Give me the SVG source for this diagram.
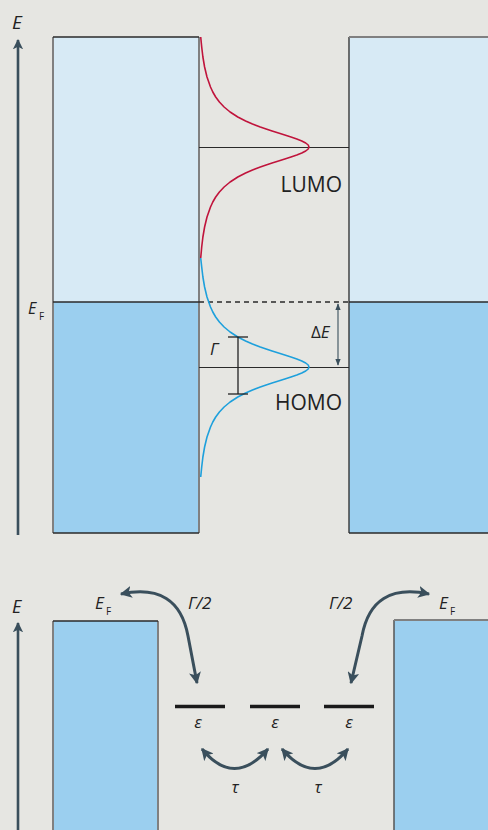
<svg xmlns="http://www.w3.org/2000/svg" width="488" height="830" viewBox="0 0 488 830">
<defs>
<style>
.t{font-family:"Open Sans","Liberation Sans",sans-serif;fill:#222}
.i{font-style:italic}
.lab{font-size:21px}
.sub{font-size:10px}
.ax{stroke:#3a4f5c;stroke-width:2.6;fill:none}
.carr{stroke:#3a4f5c;stroke-width:3;fill:none}
.gray{stroke:#808080;stroke-width:2}
.dark{stroke:#2a2a2a;stroke-width:1.3}
.lvl{stroke:#1a1a1a;stroke-width:3.5}
</style>
<marker id="ah" viewBox="0 0 10 10" refX="9" refY="5" markerWidth="4" markerHeight="4" orient="auto-start-reverse" markerUnits="strokeWidth">
<path d="M0,0 L10,5 L0,10 L2.5,5 z" fill="#3a4f5c"/>
</marker>
<marker id="ahs" viewBox="0 0 10 10" refX="9" refY="5" markerWidth="6" markerHeight="6" orient="auto-start-reverse" markerUnits="strokeWidth">
<path d="M0,1 L10,5 L0,9 z" fill="#3a4f5c"/>
</marker>
</defs>
<rect width="488" height="830" fill="#e6e6e2"/>

<g id="top-left-electrode">
<rect x="53" y="37" width="146" height="265" fill="#d7eaf5"/>
<rect x="53" y="302" width="146" height="231" fill="#9bcfef"/>
<line x1="53" y1="37" x2="53" y2="533" class="gray"/>
<line x1="199" y1="37" x2="199" y2="533" class="gray"/>
<line x1="53" y1="37" x2="199" y2="37" class="dark"/>
<line x1="53" y1="533" x2="199" y2="533" class="dark"/>
</g>
<g id="top-right-electrode">
<rect x="349" y="37" width="150" height="265" fill="#d7eaf5"/>
<rect x="349" y="302" width="150" height="231" fill="#9bcfef"/>
<line x1="349" y1="37" x2="349" y2="533" class="dark"/>
<line x1="349" y1="37" x2="499" y2="37" class="gray"/>
<line x1="349" y1="533" x2="499" y2="533" class="dark"/>
</g>

<g id="levels">
<line x1="53" y1="302" x2="199" y2="302" class="dark"/>
<line x1="199" y1="302" x2="349" y2="302" class="dark" stroke-dasharray="5,4"/>
<line x1="349" y1="302" x2="488" y2="302" class="dark"/>
<line x1="199" y1="147.5" x2="349" y2="147.5" stroke="#2a2a2a" stroke-width="1.1"/>
<line x1="199" y1="367.5" x2="349" y2="367.5" stroke="#2a2a2a" stroke-width="1.1"/>
</g>

<g id="lumo-curve">
<polyline fill="none" stroke="#c0143c" stroke-width="1.6" stroke-linejoin="round" points="200.7,37 201.7,47 202.9,57 204.6,67 207.0,77 210.5,87 212.8,92 215.7,97 219.4,102 224.1,107 230.1,112 237.8,117 245.6,121 252.5,124 260.3,127 266.1,129 272.1,131 278.5,133 284.8,135 291.0,137 296.8,139 301.8,141 305.7,143 308.2,145 309,147 308.2,149 305.7,151 301.8,153 296.8,155 291.0,157 284.8,159 278.5,161 272.1,163 266.1,165 260.3,167 252.5,170 245.6,173 237.8,177 230.1,182 224.1,187 219.4,192 215.7,197 212.8,202 210.5,207 207.0,217 204.6,227 202.9,237 201.7,247 200.7,258"/>
</g>
<g id="homo-curve">
<polyline fill="none" stroke="#1ea0dc" stroke-width="1.6" stroke-linejoin="round" points="200.7,258 201.7,267 202.9,277 204.6,287 207.0,297 210.5,307 212.8,312 215.7,317 219.4,322 224.1,327 230.1,332 237.8,337 245.6,341 252.5,344 260.3,347 266.1,349 272.1,351 278.5,353 284.8,355 291.0,357 296.8,359 301.8,361 305.7,363 308.2,365 309,367 308.2,369 305.7,371 301.8,373 296.8,375 291.0,377 284.8,379 278.5,381 272.1,383 266.1,385 260.3,387 252.5,390 245.6,393 237.8,397 230.1,402 224.1,407 219.4,412 215.7,417 212.8,422 210.5,427 207.0,437 204.6,447 202.9,457 201.7,467 200.7,477"/>
</g>

<g id="gamma-bar" stroke="#222" stroke-width="1.3">
<line x1="238" y1="337" x2="238" y2="394"/>
<line x1="228" y1="337" x2="248" y2="337"/>
<line x1="228" y1="394" x2="248" y2="394"/>
</g>

<g id="connectors">
<line x1="18" y1="535" x2="18" y2="40" class="ax" marker-end="url(#ah)"/>
<line x1="338" y1="304" x2="338" y2="365" stroke="#3a4f5c" stroke-width="1.1" marker-start="url(#ahs)" marker-end="url(#ahs)"/>
<line x1="18" y1="832" x2="18" y2="623" class="ax" marker-end="url(#ah)"/>
<path d="M121,594 Q178,582 188,636 L197,683" class="carr" marker-start="url(#ah)" marker-end="url(#ah)"/>
<path d="M429,594 Q372,582 362,636 L351,683" class="carr" marker-start="url(#ah)" marker-end="url(#ah)"/>
<path d="M202,749 Q234,788 268,749" class="carr" marker-start="url(#ah)" marker-end="url(#ah)"/>
<path d="M282,749 Q315,788 348,749" class="carr" marker-start="url(#ah)" marker-end="url(#ah)"/>
</g>

<g id="bottom-left-electrode">
<rect x="53" y="621" width="105" height="215" fill="#9bcfef"/>
<line x1="53" y1="621" x2="53" y2="830" class="gray"/>
<line x1="158" y1="621" x2="158" y2="830" class="gray"/>
<line x1="53" y1="621" x2="158" y2="621" class="dark"/>
</g>
<g id="bottom-right-electrode">
<rect x="394" y="620" width="100" height="215" fill="#9bcfef"/>
<line x1="394" y1="620" x2="394" y2="830" stroke="#555" stroke-width="1.5"/>
<line x1="394" y1="620" x2="494" y2="620" class="gray"/>
</g>

<g id="dot-levels">
<line x1="175" y1="706.5" x2="225" y2="706.5" class="lvl"/>
<line x1="250" y1="706.5" x2="300" y2="706.5" class="lvl"/>
<line x1="324" y1="706.5" x2="374" y2="706.5" class="lvl"/>
</g>

<g id="labels">
<text x="12" y="29" class="t i" font-size="19">E</text>
<text x="28" y="314" class="t i" font-size="16">E</text>
<text x="39" y="320" class="t sub">F</text>
<text x="342" y="192" class="t lab" text-anchor="end">LUMO</text>
<text x="342" y="410" class="t lab" text-anchor="end">HOMO</text>
<text x="311" y="338" class="t" font-size="17">Δ<tspan class="i">E</tspan></text>
<text x="210" y="355" class="t i" font-size="17">Γ</text>

<text x="12" y="613" class="t i" font-size="18">E</text>
<text x="95" y="609" class="t i" font-size="17">E</text>
<text x="106" y="615" class="t sub">F</text>
<text x="188" y="609" class="t i" font-size="17">Γ/2</text>
<text x="329" y="609" class="t i" font-size="17">Γ/2</text>
<text x="439" y="609" class="t i" font-size="17">E</text>
<text x="450" y="615" class="t sub">F</text>
<text x="198" y="728" class="t i" font-size="17" text-anchor="middle">ε</text>
<text x="275" y="728" class="t i" font-size="17" text-anchor="middle">ε</text>
<text x="349" y="728" class="t i" font-size="17" text-anchor="middle">ε</text>
<text x="235" y="793" class="t i" font-size="17" text-anchor="middle">τ</text>
<text x="318" y="793" class="t i" font-size="17" text-anchor="middle">τ</text>
</g>
</svg>
